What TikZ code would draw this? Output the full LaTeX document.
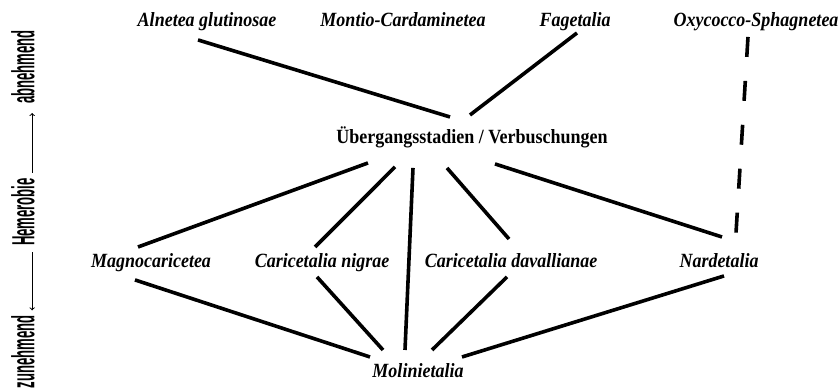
\documentclass[tikz,border=0pt]{standalone}
\usepackage{fontspec}
\usepackage{graphicx}
\setmainfont{Liberation Serif}
\newfontfamily\condfont{Liberation Sans}
\usepackage{tikz}

\tikzset{
    order/.style={font=\fontsize{18}{20}\selectfont\bfseries\itshape, inner sep=2pt, text height=13pt, text depth=4pt, anchor=base, yscale=1.12},
    stage/.style={font=\fontsize{18}{20}\selectfont\bfseries, inner sep=2pt, text height=13pt, text depth=4pt, anchor=base, yscale=1.12},
    hemer/.style={font=\condfont\bfseries\fontsize{32}{32}\selectfont, rotate=90, inner sep=2pt},
    link/.style={line width=3.6pt},
    gradient/.style={->, line width=1pt}
}

\begin{document}
\begin{tikzpicture}[x=1pt,y=-1pt]
    \useasboundingbox (0,0) rectangle (839,388);
    \node[hemer] (zun) at (23,352) {\scalebox{0.41}[1]{zunehmend}};
    \node[hemer] (hem) at (23,212) {\scalebox{0.41}[1]{Hemerobie}};
    \node[hemer] (abn) at (23,67) {\scalebox{0.41}[1]{abnehmend}};
    \draw[gradient, shorten <=3pt, shorten >=7pt] (hem.mid east) -- (abn.mid west);
    \draw[gradient, shorten <=4pt, shorten >=3pt] (hem.mid west) -- (zun.mid east);
    \node[order] (aln) at (207,27) {Alnetea glutinosae};
    \node[order] (mon) at (403,27) {Montio-Cardaminetea};
    \node[order] (fag) at (575,27) {Fagetalia};
    \node[order] (oxy) at (756,27) {Oxycocco-Sphagnetea};
    \node[stage] (ueb) at (472,143) {Übergangsstadien / Verbuschungen};
    \node[order] (mag) at (151,267) {Magnocaricetea};
    \node[order] (nig) at (322,267) {Caricetalia nigrae};
    \node[order] (dav) at (511,267) {Caricetalia davallianae};
    \node[order] (nar) at (719,267) {Nardetalia};
    \node[order] (mol) at (418,377) {Molinietalia};
    \draw[link] ([shift={(-9,6)}]aln.south) -- ([shift={(-22,-9)}]ueb.north);
    \draw[link] ([shift={(2,-1)}]fag.south) -- ([shift={(-2,-11)}]ueb.north);
    \draw[link, dash pattern=on 20pt off 24pt] ([shift={(-8,3)}]oxy.south) -- ([shift={(17,-17)}]nar.north);
    \draw[link] ([shift={(-104,13)}]ueb.south) -- ([shift={(-13,-3)}]mag.north);
    \draw[link] ([shift={(-77,17)}]ueb.south) -- ([shift={(-7,-3)}]nig.north);
    \draw[link] ([shift={(-59,18)}]ueb.south) -- ([shift={(-13,-10)}]mol.north);
    \draw[link] ([shift={(-25,18)}]ueb.south) -- ([shift={(-2,-11)}]dav.north);
    \draw[link] ([shift={(23,14)}]ueb.south) -- ([shift={(3,-13)}]nar.north);
    \draw[link] ([shift={(-16,6)}]mag.south) -- ([shift={(-48,-3)}]mol.north);
    \draw[link] ([shift={(-5,3)}]nig.south) -- ([shift={(-35,-10)}]mol.north);
    \draw[link] ([shift={(-4,3)}]dav.south) -- ([shift={(14,-10)}]mol.north);
    \draw[link] ([shift={(5,2)}]nar.south) -- ([shift={(44,-3)}]mol.north);
\end{tikzpicture}
\end{document}
